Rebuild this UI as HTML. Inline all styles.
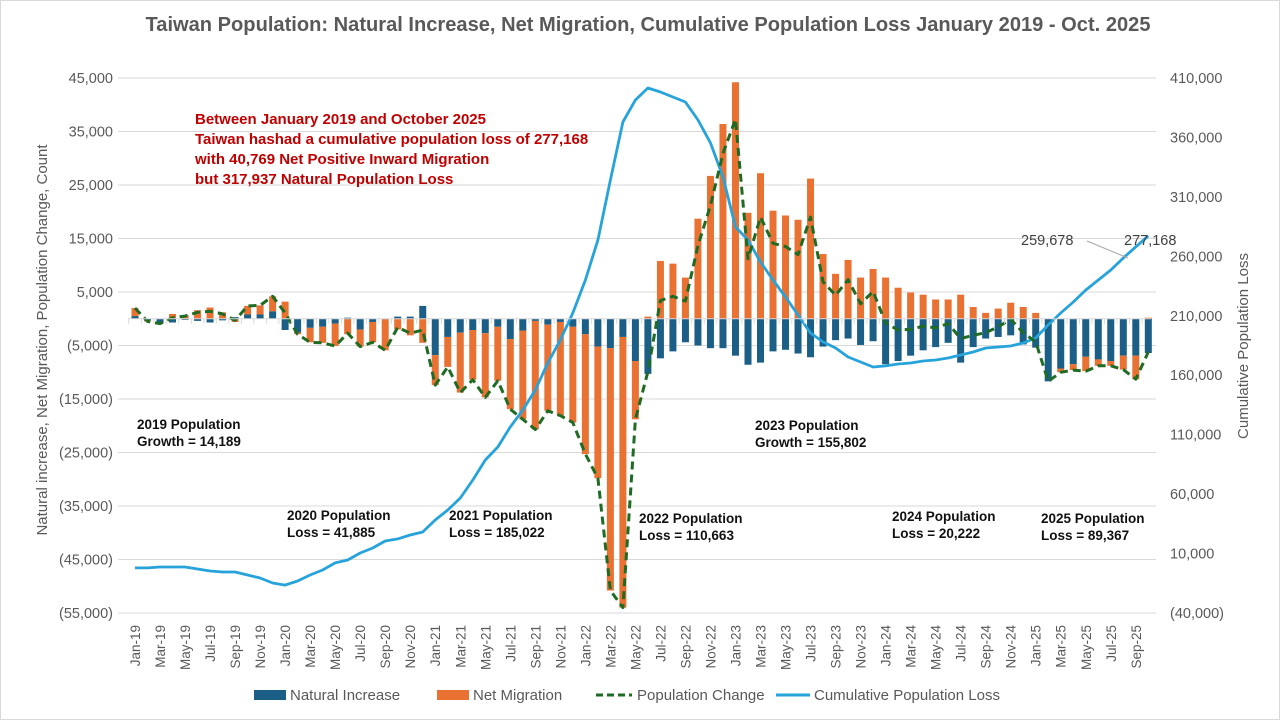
<!DOCTYPE html>
<html><head><meta charset="utf-8">
<style>
html,body{margin:0;padding:0;background:#fff;}
svg{display:block;font-family:"Liberation Sans",Arial,sans-serif;}
</style></head>
<body>
<svg id="chart" width="1280" height="720" viewBox="0 0 1280 720" xmlns="http://www.w3.org/2000/svg">
<rect x="0.5" y="0.5" width="1279" height="719" fill="#fff" stroke="#d9d9d9"/>
<text x="648" y="31" text-anchor="middle" font-size="20" font-weight="bold" fill="#595959" textLength="1005" lengthAdjust="spacingAndGlyphs">Taiwan Population: Natural Increase, Net Migration, Cumulative Population Loss January 2019 - Oct. 2025</text>
<g id="grid"></g>
<g id="bars"></g>
<g id="lines"></g>
<g id="axes"></g>
<text transform="translate(47,340) rotate(-90)" text-anchor="middle" font-size="15" fill="#595959">Natural increase, Net Migration, Population Change, Count</text>
<text transform="translate(1248,346) rotate(-90)" text-anchor="middle" font-size="15" fill="#595959">Cumulative Population Loss</text>
<g font-size="15" font-weight="bold" fill="#C00000">
<text x="195" y="124">Between January 2019  and October 2025</text>
<text x="195" y="144">Taiwan hashad a cumulative population loss of 277,168</text>
<text x="195" y="164">with 40,769 Net Positive Inward Migration</text>
<text x="195" y="184">but 317,937 Natural Population Loss</text>
</g>
<g font-size="13.5" font-weight="bold" fill="#111">
<text x="137" y="429"><tspan x="137">2019 Population</tspan><tspan x="137" dy="17">Growth = 14,189</tspan></text>
<text x="287" y="520"><tspan x="287">2020 Population</tspan><tspan x="287" dy="17">Loss = 41,885</tspan></text>
<text x="449" y="520"><tspan x="449">2021 Population</tspan><tspan x="449" dy="17">Loss = 185,022</tspan></text>
<text x="639" y="523"><tspan x="639">2022 Population</tspan><tspan x="639" dy="17">Loss = 110,663</tspan></text>
<text x="755" y="430"><tspan x="755">2023 Population</tspan><tspan x="755" dy="17">Growth = 155,802</tspan></text>
<text x="892" y="521"><tspan x="892">2024 Population</tspan><tspan x="892" dy="17">Loss = 20,222</tspan></text>
<text x="1041" y="523"><tspan x="1041">2025 Population</tspan><tspan x="1041" dy="17">Loss = 89,367</tspan></text>
</g>
<g>
<line x1="1087" y1="241" x2="1128" y2="258" stroke="#a6a6a6" stroke-width="1"/>
<text x="1021" y="245" font-size="14.5" fill="#404040">259,678</text>
<text x="1124" y="245" font-size="14.5" fill="#404040">277,168</text>
</g>
<g font-size="15" fill="#595959">
<rect x="254" y="690" width="32" height="10" fill="#1B5E86"/>
<text x="290" y="700">Natural Increase</text>
<rect x="437" y="690" width="32" height="10" fill="#E97132"/>
<text x="473" y="700">Net Migration</text>
<line x1="596" y1="695" x2="632" y2="695" stroke="#1E6B24" stroke-width="3" stroke-dasharray="7,4"/>
<text x="637" y="700">Population Change</text>
<line x1="776" y1="695" x2="810" y2="695" stroke="#26A3DB" stroke-width="3"/>
<text x="814" y="700">Cumulative Population Loss</text>
</g>
</svg>
<script>
const months = ["Jan","Feb","Mar","Apr","May","Jun","Jul","Aug","Sep","Oct","Nov","Dec"];
const startYear = 19;
const monthCount = 82;
const naturalIncrease = [
 500,-300,-800,-700,-200,-400,-700,-300,300,800,800,1400,
 -2100,-2600,-1700,-1500,-900,200,-2000,-600,-100,400,400,2400,
 -6800,-3400,-2600,-2100,-2700,-1500,-3800,-2200,-400,-1100,-600,-1500,
 -2900,-5200,-5500,-3400,-7900,-10300,-7400,-6100,-4400,-5000,-5500,-5500,
 -6900,-8600,-8200,-6100,-5800,-6500,-7200,-5200,-4000,-3700,-4900,-4200,
 -8500,-7900,-6900,-5900,-5300,-4500,-8200,-5300,-3700,-3400,-3100,-4800,
 -5400,-11700,-9300,-8500,-7100,-7600,-7900,-6900,-6900,-6400];
const netMigration = [
 1500,-200,-100,900,700,1600,2100,1200,-600,1600,1700,2800,
 3200,-300,-2700,-3000,-4200,-2900,-3200,-3800,-5800,-2000,-3100,-4500,
 -5600,-5600,-11200,-9300,-12000,-10100,-13100,-16600,-20300,-16100,-17500,-17900,
 -22400,-24600,-45300,-50600,-10900,400,10800,10300,7700,18700,26700,36400,
 44200,19800,27200,20200,19300,18500,26200,12100,8400,11000,7700,9300,
 7700,5800,4900,4500,3600,3600,4500,2200,1100,1900,3000,2200,
 1100,0,-700,-1100,-2700,-1200,-900,-2600,-4400,200];
const cumulativeLoss = [
 -2100,-2100,-1300,-1300,-1300,-3000,-4700,-5500,-5500,-8000,-10600,-14800,
 -16500,-13100,-8000,-3800,2100,4600,10500,14700,20600,22300,25600,28100,
 38200,46600,56700,71900,88700,99600,116500,130700,147600,170300,189600,212300,
 240100,273700,324200,373000,391500,401600,398200,394000,389800,374700,355300,326700,
 284700,273700,255200,240100,225800,210700,195500,188000,182900,175300,171100,166900,
 167800,169400,170300,172000,172800,174500,177000,179500,182900,183700,184600,187100,
 191300,202300,212300,221600,231700,240100,248500,258600,268000,277168];
const leftTicks = [45000,35000,25000,15000,5000,-5000,-15000,-25000,-35000,-45000,-55000];
const rightTicks = [410000,360000,310000,260000,210000,160000,110000,60000,10000,-40000];

const NS="http://www.w3.org/2000/svg";
const PT=78, PB=613, XL=118, XR=1156;
function yL(v){return PT+(45000-v)/100000*(PB-PT);}
function yR(v){return PT+(410000-v)/450000*(PB-PT);}
function xM(i){return 135+i*12.51;}
function mk(tag,attrs,parent){const e=document.createElementNS(NS,tag);for(const k in attrs)e.setAttribute(k,attrs[k]);parent.appendChild(e);return e;}
function fmt(v){const s=Math.abs(v).toLocaleString("en-US");return v<0?"("+s+")":s;}

const grid=document.getElementById("grid"), axes=document.getElementById("axes"), bars=document.getElementById("bars"), lines=document.getElementById("lines");
leftTicks.forEach(t=>{
  const g=mk("line",{x1:XL,x2:XR,y1:yL(t),y2:yL(t),stroke:"#d9d9d9","stroke-width":1},grid);
  
  
  const tx=mk("text",{x:113,y:yL(t)+5,"text-anchor":"end","font-size":14.5,fill:"#595959"},axes);
  tx.textContent=fmt(t);
  
  
});
rightTicks.forEach(t=>{
  const tx=mk("text",{x:1170,y:yR(t)+5,"font-size":14.5,fill:"#595959"},axes);
  tx.textContent=fmt(t);
  
  
});
const z=yL(0);
const ax=mk("line",{x1:XL+10,x2:XR-5,y1:z,y2:z,stroke:"#d9d9d9","stroke-width":1},axes);


for(let i=0;i<monthCount;i++){
  const tk=mk("line",{x1:xM(i)-6.25,x2:xM(i)-6.25,y1:z,y2:z+5,stroke:"#d9d9d9"},axes);
  
  
  if(i%2===0){
    const lab=months[i%12]+"-"+(startYear+Math.floor(i/12));
    const tx=mk("text",{transform:"translate("+(xM(i)+5)+",625) rotate(-90)","text-anchor":"end","font-size":13.5,fill:"#595959"},axes);
    tx.textContent=lab;
    
    
  }
}
const bw=7;
for(let i=0;i<monthCount;i++){
  let pos=0,neg=0;
  [[naturalIncrease[i],"#1B5E86","bar-natural-increase"],[netMigration[i],"#E97132","bar-net-migration"]].forEach(([v,c,n])=>{
    let a,b;
    if(v>=0){a=pos;b=pos+v;pos=b;}else{a=neg;b=neg+v;neg=b;}
    const y1=Math.min(yL(a),yL(b)), h=Math.abs(yL(a)-yL(b));
    const r=mk("rect",{x:xM(i)-bw/2,y:y1,width:bw,height:h,fill:c},bars);
    
    
  });
}
let dChange="", dCum="";
for(let i=0;i<monthCount;i++){
  const pc=naturalIncrease[i]+netMigration[i];
  dChange+=(i?"L":"M")+xM(i).toFixed(1)+","+yL(pc).toFixed(1);
  dCum+=(i?"L":"M")+xM(i).toFixed(1)+","+yR(cumulativeLoss[i]).toFixed(1);
}
const pCum=mk("path",{d:dCum,fill:"none",stroke:"#26A3DB","stroke-width":2.8,"stroke-linejoin":"round"},lines);


const pCh=mk("path",{d:dChange,fill:"none",stroke:"#1E6B24","stroke-width":3,"stroke-dasharray":"8,5","stroke-linejoin":"round"},lines);


</script>
</body></html>
